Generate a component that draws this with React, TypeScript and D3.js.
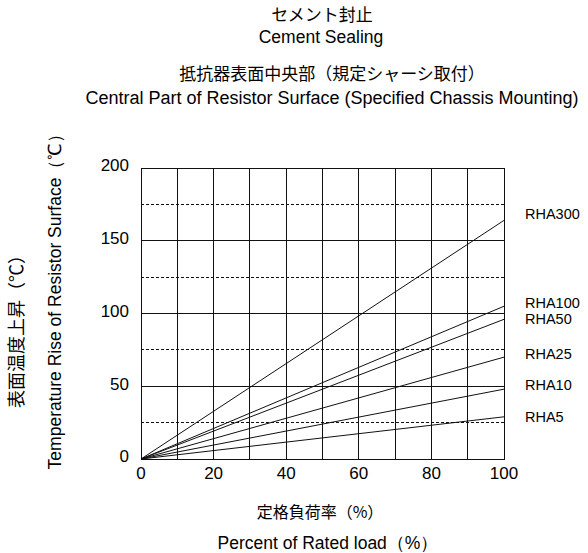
import { useEffect } from "react"
import * as d3 from "d3"

// series: temperature rise at 100% rated load (line from origin)
const models = ["RHA300", "RHA100", "RHA50", "RHA25", "RHA10", "RHA5"]
const loadPoints = [0, 100]
const riseRHA300 = [0, 164]
const riseRHA100 = [0, 105]
const riseRHA50 = [0, 96]
const riseRHA25 = [0, 70]
const riseRHA10 = [0, 48]
const riseRHA5 = [0, 29]
const labelRows = [214, 303, 319, 354, 385, 417]
const xTicks = [0, 20, 40, 60, 80, 100]
const yTicks = [0, 50, 100, 150, 200]
const xGrid = [10, 20, 30, 40, 50, 60, 70, 80, 90]
const ySolid = [50, 100, 150]
const yDashed = [25, 75, 125, 175]

const W = 588
const H = 553
const latin = "'Liberation Sans', Arial, sans-serif"
const cjk = "'Noto Sans CJK JP', 'Liberation Sans', sans-serif"

export default function App() {
  useEffect(() => {
    document.body.style.margin = "0"
  }, [])

  const x = d3.scaleLinear().domain([0, 100]).range([141, 504])
  const y = d3.scaleLinear().domain([0, 200]).range([459, 168])

  const series = [riseRHA300, riseRHA100, riseRHA50, riseRHA25, riseRHA10, riseRHA5]
  const line = d3
    .line<number>()
    .x((_, i) => x(loadPoints[i]))
    .y((d) => y(d))

  const ink = "#111"

  return (
    <svg width={W} height={H} style={{ display: "block", background: "#fff" }}>
      {/* titles */}
      <g textAnchor="middle" fill="#000">
        <text x={322} y={21} fontFamily={cjk} fontSize={17}>
          セメント封止
        </text>
        <text x={321} y={43} fontFamily={latin} fontSize={17.5}>
          Cement Sealing
        </text>
        <text x={332} y={80} fontFamily={cjk} fontSize={17}>
          抵抗器表面中央部（規定シャーシ取付）
        </text>
        <text x={332} y={104} fontFamily={latin} fontSize={18}>
          Central Part of Resistor Surface (Specified Chassis Mounting)
        </text>
      </g>

      {/* grid */}
      <g stroke={ink} strokeWidth={1} shapeRendering="crispEdges">
        {xGrid.map((v) => (
          <line key={"vx" + v} x1={x(v)} x2={x(v)} y1={y(0)} y2={y(200)} />
        ))}
        {ySolid.map((v) => (
          <line key={"hs" + v} x1={x(0)} x2={x(100)} y1={y(v)} y2={y(v)} />
        ))}
        {yDashed.map((v) => (
          <line key={"hd" + v} x1={x(0)} x2={x(100)} y1={y(v)} y2={y(v)} strokeDasharray="3,2" />
        ))}
        <rect x={x(0)} y={y(200)} width={x(100) - x(0)} height={y(0) - y(200)} fill="none" />
      </g>

      {/* series lines */}
      <g fill="none" stroke={ink} strokeWidth={1}>
        {series.map((s, i) => (
          <path key={models[i]} d={line(s) || ""} />
        ))}
      </g>

      {/* series labels */}
      <g fontFamily={latin} fontSize={14.5} fill="#000">
        {models.map((m, i) => (
          <text key={m} x={525} y={labelRows[i]} dy="0.35em">
            {m}
          </text>
        ))}
      </g>

      {/* tick labels */}
      <g fontFamily={latin} fontSize={17} fill="#000">
        {yTicks.map((v) => (
          <text key={"yt" + v} x={129} y={y(v)} dy="0.2em" textAnchor="end">
            {v}
          </text>
        ))}
        {xTicks.map((v) => (
          <text key={"xt" + v} x={x(v)} y={479} textAnchor="middle">
            {v}
          </text>
        ))}
      </g>

      {/* axis titles */}
      <g textAnchor="middle" fill="#000">
        <text x={320} y={518} fontFamily={cjk} fontSize={16}>
          定格負荷率（%）
        </text>
        <text x={328} y={549} fontFamily={latin} fontSize={17.5}>
          Percent of Rated load（%）
        </text>
        <text transform={`translate(23,327) rotate(-90)`} fontFamily={cjk} fontSize={18}>
          表面温度上昇（℃）
        </text>
        <text transform={`translate(61,297) rotate(-90)`} fontFamily={latin} fontSize={17.5}>
          Temperature Rise of Resistor Surface（℃）
        </text>
      </g>
    </svg>
  )
}
